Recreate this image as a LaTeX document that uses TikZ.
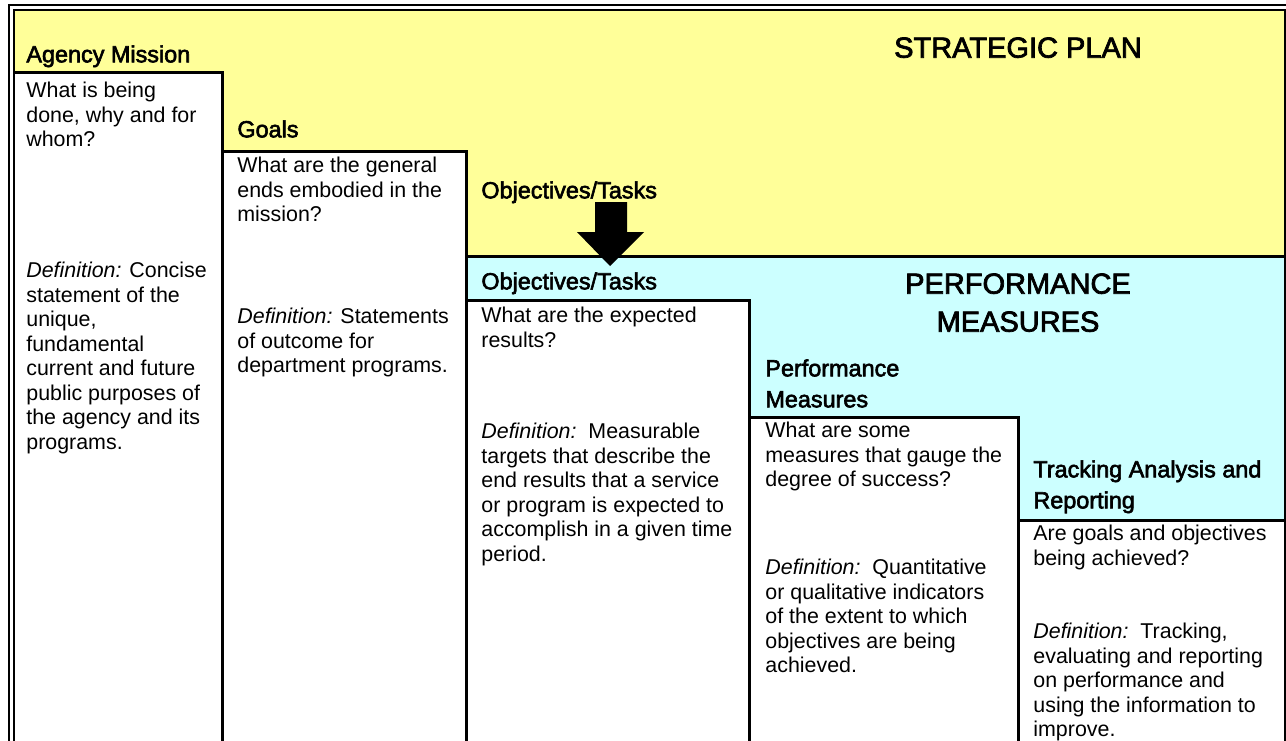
\documentclass[tikz,border=0pt]{standalone}
\usepackage{fontspec}
\setmainfont{Liberation Sans}
\newfontfamily\headfont[FakeBold=2.5]{Liberation Sans}
\usetikzlibrary{positioning}

\definecolor{planyellow}{HTML}{FFFF99}
\definecolor{measurecyan}{HTML}{CCFFFF}

\begin{document}
\begin{tikzpicture}[x=0.5pt, y=-0.5pt,
        boxline/.style={line width=1.5pt},
        frameline/.style={line width=1pt},
        body/.style={anchor=north west, inner sep=0pt, align=left,
            font=\fontsize{10.7}{12.25}\selectfont},
        head/.style={anchor=north west, inner sep=0pt, align=left,
            font=\headfont\fontsize{11.7}{15.5}\selectfont},
        title/.style={anchor=north, inner sep=0pt, align=center,
            font=\headfont\fontsize{14.5}{19}\selectfont}]
    \useasboundingbox (0,0) rectangle (1286,740);

    % background: strategic plan on top, measures below
    \fill[planyellow] (13.5,9.5) rectangle (1284.5,740);
    \fill[measurecyan] (466,256) rectangle (1284.5,740);

    % the stepped white columns
    \fill[white] (13.5,72) rectangle (222,740);
    \fill[white] (222,151) rectangle (466,740);
    \fill[white] (466,300) rectangle (749,740);
    \fill[white] (749,417) rectangle (1018,740);
    \fill[white] (1018,520) rectangle (1284.5,740);
    \draw[boxline] (13.5,72) -- (222,72) -- (222,745);
    \draw[boxline] (222,151) -- (466,151) -- (466,745);
    \draw[boxline] (466,300) -- (749,300) -- (749,745);
    \draw[boxline] (749,417) -- (1018,417) -- (1018,745);
    \draw[boxline] (1018,520) -- (1284.5,520);
    \draw[boxline] (466,256) -- (1284.5,256);

    % double frame, cut at the page edge
    \begin{scope}
        \clip (0,0) rectangle (1286,740);
        \draw[frameline] (9,5) rectangle (1290,760);
        \draw[frameline] (13.5,9.5) rectangle (1284.5,760);
    \end{scope}

    % titles
    \node[title] (plan) at (1018,37) {STRATEGIC PLAN};
    \node[title] (measures) at (1018,273) {PERFORMANCE\\MEASURES};

    % column headings
    \node[head] (missionhead) at (26,45) {Agency Mission};
    \node[head] (goalshead) at (237,120) {Goals};
    \node[head] (objplanhead) at (481,181) {Objectives/Tasks};
    \node[head] (objhead) at (481,272) {Objectives/Tasks};
    \node[head] (perfhead) at (765,359) {Performance\\Measures};
    \node[head] (trackhead) at (1033,460) {Tracking Analysis and\\Reporting};

    % objectives carry over from the plan
    \fill (595,202) -- (627,202) -- (627,232) -- (644,232) -- (610,266)
        -- (577,232) -- (595,232) -- cycle;

    % column texts
    \node[body] (missionq) at (26,82) {What is being\\done, why and for\\whom?};
    \node[body] (missiondef) at (26,262) {\textit{Definition:} Concise\\statement of the\\unique,\\fundamental\\current and future\\public purposes of\\the agency and its\\programs.};
    \node[body] (goalsq) at (237,157) {What are the general\\ends embodied in the\\mission?};
    \node[body] (goalsdef) at (237,308) {\textit{Definition:} Statements\\of outcome for\\department programs.};
    \node[body] (objq) at (481,307) {What are the expected\\results?};
    \node[body] (objdef) at (481,423) {\textit{Definition:}\ \ Measurable\\targets that describe the\\end results that a service\\or program is expected to\\accomplish in a given time\\period.};
    \node[body] (perfq) at (765,422) {What are some\\measures that gauge the\\degree of success?};
    \node[body] (perfdef) at (765,559) {\textit{Definition:}\ \ Quantitative\\or qualitative indicators\\of the extent to which\\objectives are being\\achieved.};
    \node[body] (trackq) at (1033,525) {Are goals and objectives\\being achieved?};
    \node[body] (trackdef) at (1033,623) {\textit{Definition:}\ \ Tracking,\\evaluating and reporting\\on performance and\\using the information to\\improve.};
\end{tikzpicture}
\end{document}
